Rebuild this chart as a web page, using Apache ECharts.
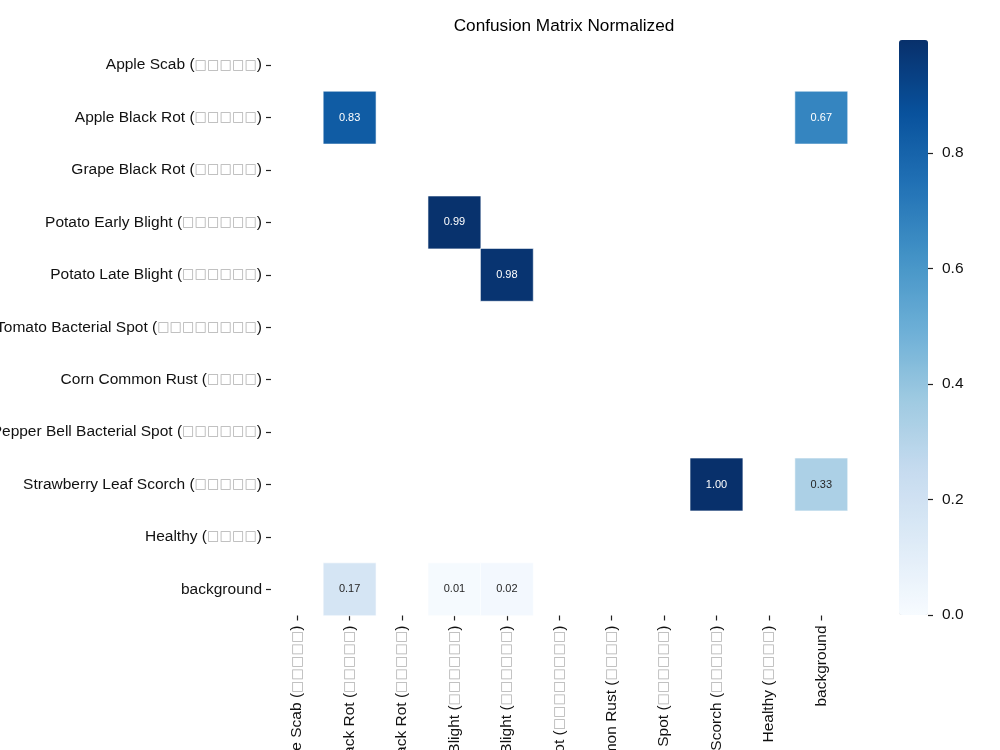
<!DOCTYPE html>
<html><head><meta charset="utf-8">
<script src="https://cdn.jsdelivr.net/npm/echarts@6/dist/echarts.min.js"></script>
<style>html,body{margin:0;padding:0;background:#fff}#c{width:1000px;height:750px}</style>
</head><body><div id="c"></div>
<script>
const classes = ['Apple Scab (□□□□□)', 'Apple Black Rot (□□□□□)', 'Grape Black Rot (□□□□□)', 'Potato Early Blight (□□□□□□)', 'Potato Late Blight (□□□□□□)', 'Tomato Bacterial Spot (□□□□□□□□)', 'Corn Common Rust (□□□□)', 'Pepper Bell Bacterial Spot (□□□□□□)', 'Strawberry Leaf Scorch (□□□□□)', 'Healthy (□□□□)', 'background'];
// [row (predicted), column (true), value]; zero cells are left blank
const cells = [
  [1, 1, 0.83], [1, 10, 0.67],
  [3, 3, 0.99],
  [4, 4, 0.98],
  [8, 8, 0.996], [8, 10, 0.33],
  [10, 1, 0.17], [10, 3, 0.01], [10, 4, 0.02]
];
const colorbarTicks = [0, 0.2, 0.4, 0.6, 0.8];
const vmin = 0, vmax = 0.996;
const blues = ['#f7fbff', '#deebf7', '#c6dbef', '#9ecae1', '#6baed6', '#4292c6', '#2171b5', '#08519c', '#08306b'];

const FONT = 'Liberation Sans, Arial, sans-serif';
function fmtLabel(v) {
  return v.replace(/(□+)/, '{b|$1}');
}
const rich = { b: { color: '#b0b0b0', fontFamily: 'DejaVu Sans', fontSize: 13.2 } };

const chart = echarts.init(document.getElementById('c'), null, { renderer: 'canvas' });
chart.setOption({
  animation: false,
  backgroundColor: '#ffffff',
  title: {
    text: 'Confusion Matrix Normalized', left: 559, top: 13, textAlign: 'center',
    textStyle: { fontFamily: FONT, fontSize: 17.2, fontWeight: 'normal', color: '#000' }
  },
  grid: [
    { left: 271, top: 39, width: 576.5, height: 576.5, outerBoundsMode: 'none', containLabel: false },
    { left: 899, top: 40, width: 29, height: 575, outerBoundsMode: 'none', containLabel: false }
  ],
  xAxis: [
    {
      type: 'category', data: classes, gridIndex: 0, position: 'bottom',
      axisLine: { show: false }, splitLine: { show: false }, splitArea: { show: false },
      axisTick: { show: true, alignWithLabel: true, length: 5, lineStyle: { color: '#222', width: 1.2 } },
      axisLabel: { rotate: 90, interval: 0, margin: 10, fontFamily: FONT, fontSize: 15.5, color: '#111', formatter: fmtLabel, rich: rich }
    },
    { type: 'category', data: ['cb'], gridIndex: 1, show: false }
  ],
  yAxis: [
    {
      type: 'category', data: classes, gridIndex: 0, inverse: true,
      axisLine: { show: false }, splitLine: { show: false }, splitArea: { show: false },
      axisTick: { show: true, alignWithLabel: true, length: 5, lineStyle: { color: '#222', width: 1.2 } },
      axisLabel: { interval: 0, margin: 9, fontFamily: FONT, fontSize: 15.5, color: '#111', formatter: fmtLabel, rich: rich }
    },
    {
      type: 'value', gridIndex: 1, position: 'right', min: vmin, max: vmax,
      axisLine: { show: false, onZero: false }, splitLine: { show: false },
      axisTick: { show: true, length: 5, inside: false, lineStyle: { color: '#222', width: 1.2 }, customValues: colorbarTicks },
      axisLabel: { margin: 14, fontFamily: FONT, fontSize: 15.5, color: '#111', customValues: colorbarTicks, formatter: v => v.toFixed(1) }
    }
  ],
  visualMap: {
    type: 'continuous', seriesIndex: 0, min: vmin, max: vmax, calculable: false,
    orient: 'vertical', left: 899, top: 40, itemWidth: 29, itemHeight: 575,
    padding: 0, text: null, showLabel: false, hoverLink: false,
    inRange: { color: blues }
  },
  series: [{
    type: 'heatmap', xAxisIndex: 0, yAxisIndex: 0,
    data: cells.map(c => ({
      value: [c[1], c[0], c[2]],
      label: { color: c[2] > 0.5 ? '#ffffff' : '#262626' }
    })),
    itemStyle: { borderColor: '#ffffff', borderWidth: 0.6 },
    label: { show: true, fontFamily: FONT, fontSize: 11, formatter: p => p.value[2].toFixed(2) },
    emphasis: { disabled: true }
  }]
});
</script></body></html>
